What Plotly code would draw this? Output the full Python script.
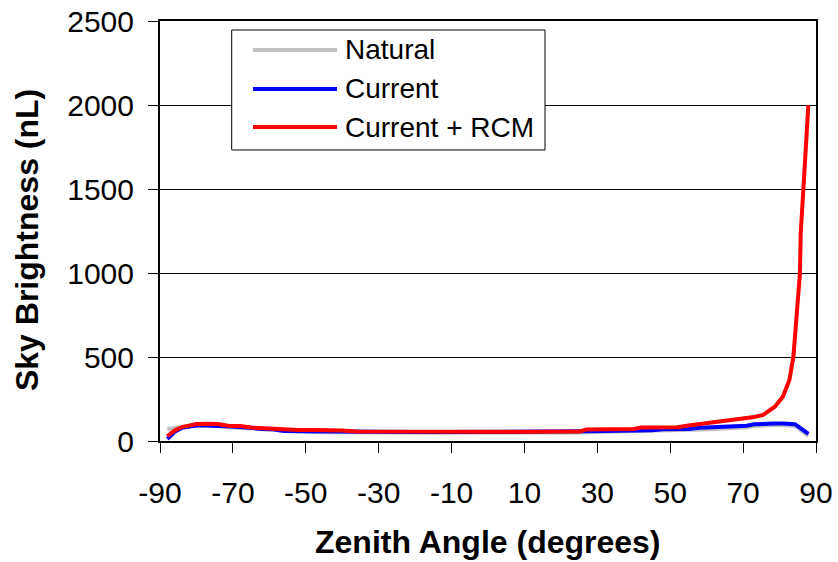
import plotly.graph_objects as go

# Zenith angle (degrees)
angle = [-88, -86, -84, -82, -80, -77, -74, -71, -68, -65, -62, -59, -56, -52, -48, -44,
         -40, -36, -30, -20, -10, 0, 10, 20, 25, 27, 32, 36, 40, 42, 45, 48, 52, 55, 58,
         62, 65, 68, 71, 73, 75.5, 78.7, 80.9, 82.7, 83.8, 84.2, 85.0, 85.6, 85.8, 86.6, 87.9]

# Sky brightness (nL)
natural = [72, 80, 86, 90, 92, 92, 90, 82, 80, 74, 70, 66, 60, 58, 54, 52,
           50, 50, 50, 49, 48, 48, 48, 49, 50, 52, 54, 55, 56, 57, 58, 60, 61, 62, 68,
           72, 74, 79, 82, 90, 94, 95, 95, 95, 93, 90, 78, 68, 64, 50, 30]
current = [12, 55, 78, 88, 92, 93, 92, 87, 84, 76, 72, 70, 60, 58, 57, 57,
           56, 54, 54, 54, 54, 54, 54, 54, 55, 58, 60, 60, 61, 61, 64, 70, 70, 71, 79,
           81, 83, 89, 91, 100, 104, 104, 104, 104, 103, 100, 88, 78, 74, 60, 42]
current_rcm = [28, 62, 83, 95, 101, 102, 101, 90, 89, 80, 76, 75, 66, 65, 65, 65,
               63, 56, 55, 55, 55, 55, 55, 55, 56, 68, 70, 70, 71, 80, 81, 81, 82, 92, 100,
               112, 120, 128, 137, 143, 155, 204, 264, 363, 502, 621, 800, 1000, 1230, 1500, 2000]

series_names = ["Natural", "Current", "Current + RCM"]
series_colors = ["#C0C0C0", "#0000FF", "#FF0000"]
series_values = [natural, current, current_rcm]

x_ticks = [-90, -70, -50, -30, -10, 10, 30, 50, 70, 90]
x_tick_labels = ["-90", "-70", "-50", "-30", "-10", "10", "30", "50", "70", "90"]
y_ticks = [0, 500, 1000, 1500, 2000, 2500]

FONT = "Liberation Sans, Arial, sans-serif"
TICK_SIZE = 30
LEGEND_SIZE = 28
TITLE_SIZE = 32

fig = go.Figure()
for name, color, vals in zip(series_names, series_colors, series_values):
    fig.add_trace(go.Scatter(x=angle, y=vals, mode="lines", name=name,
                             line=dict(color=color, width=4), showlegend=False))

# Legend (drawn manually to match long line samples)
shapes = [dict(type="rect", xref="paper", yref="paper", x0=0.1093, x1=0.5869,
               y0=0.6929, y1=0.9786, line=dict(color="black", width=1),
               fillcolor="white", layer="above")]
annotations = []
rows_y = [0.9310, 0.8381, 0.7476]
for name, color, yy in zip(series_names, series_colors, rows_y):
    shapes.append(dict(type="line", xref="paper", yref="paper", x0=0.1418, x1=0.2698,
                       y0=yy, y1=yy, line=dict(color=color, width=4), layer="above"))
    annotations.append(dict(xref="paper", yref="paper", x=0.279, y=yy, text=name,
                            showarrow=False, xanchor="left", yanchor="middle",
                            font=dict(family=FONT, size=LEGEND_SIZE, color="black")))

annotations.append(dict(xref="paper", yref="paper", x=0.5, y=-0.2405,
                        text="<b>Zenith Angle (degrees)</b>", showarrow=False,
                        xanchor="center", yanchor="middle",
                        font=dict(family=FONT, size=TITLE_SIZE, color="black")))
annotations.append(dict(xref="paper", yref="paper", x=-0.2027, y=0.4786,
                        text="<b>Sky Brightness (nL)</b>", showarrow=False, textangle=-90,
                        xanchor="center", yanchor="middle",
                        font=dict(family=FONT, size=TITLE_SIZE, color="black")))

fig.update_layout(
    width=838, height=562,
    margin=dict(l=160, r=22, t=21, b=121, autoexpand=False),
    paper_bgcolor="white", plot_bgcolor="white",
    font=dict(family=FONT, size=TICK_SIZE, color="black"),
    shapes=shapes, annotations=annotations,
)
fig.update_xaxes(range=[-90, 90], tickvals=x_ticks, ticktext=x_tick_labels,
                 ticks="outside", ticklen=10,
                 tickwidth=1, tickcolor="black", showline=True, linecolor="black",
                 linewidth=2, mirror=True, showgrid=False, zeroline=False,
                 tickfont=dict(family=FONT, size=TICK_SIZE), ticklabelstandoff=14)
fig.update_yaxes(range=[0, 2500], tickvals=y_ticks, ticks="outside", ticklen=10,
                 tickwidth=1, tickcolor="black", showline=True, linecolor="black",
                 linewidth=2, mirror=True, showgrid=True, gridcolor="black", gridwidth=1,
                 zeroline=False, tickfont=dict(family=FONT, size=TICK_SIZE), ticklabelstandoff=8)

fig.write_html("out.html", config={"displayModeBar": False},
               post_script="document.body.style.margin='0';")
